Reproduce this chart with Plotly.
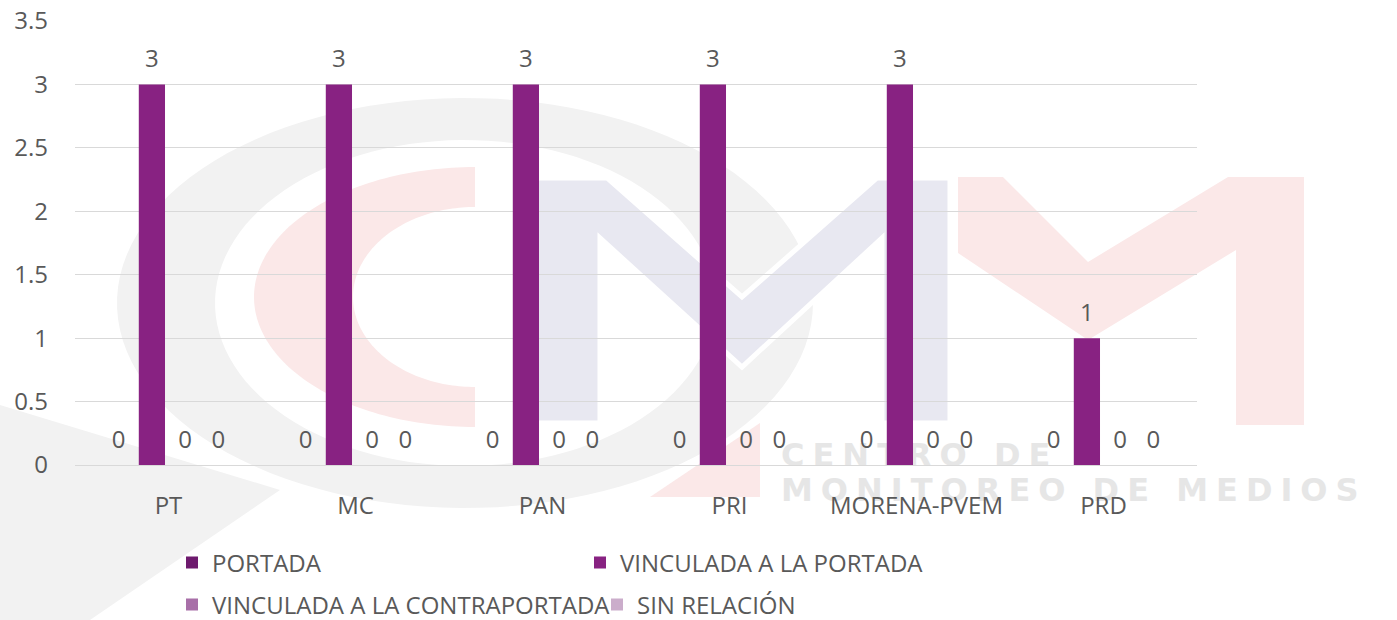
import numpy as np
import plotly.graph_objects as go

# ---------------- data ----------------
categories = ["PT", "MC", "PAN", "PRI", "MORENA-PVEM", "PRD"]
portada = [0, 0, 0, 0, 0, 0]
vinculada_portada = [3, 3, 3, 3, 3, 1]
vinculada_contraportada = [0, 0, 0, 0, 0, 0]
sin_relacion = [0, 0, 0, 0, 0, 0]
series_names = ["PORTADA", "VINCULADA A LA PORTADA",
                "VINCULADA A LA CONTRAPORTADA", "SIN RELACIÓN"]
y_tick_values = [0, 0.5, 1, 1.5, 2, 2.5, 3, 3.5]

# ---------------- style ----------------
colors = ["#6E1A6E", "#882282", "#A86FA8", "#CBADCB"]
legend_of = ["legend", "legend", "legend2", "legend2"]
FONT = "Open Sans"
TXT = "#595959"
W, H = 1397, 620
L, R, T, B = 75, 1197, 21, 465  # plot area in pixels
GAP = 0.29


def px(x):
    return (x - L) / (R - L)


def py(y):
    return (B - y) / (B - T)


def poly(points):
    return "M " + " L ".join(f"{px(x):.5f},{py(y):.5f}" for x, y in points) + " Z"


def ellipse_pts(cx, cy, rx, ry, a0, a1, n=120):
    a = np.linspace(np.radians(a0), np.radians(a1), n)
    return [(cx + rx * np.cos(t), cy - ry * np.sin(t)) for t in a]


fig = go.Figure()
all_values = [portada, vinculada_portada, vinculada_contraportada, sin_relacion]
for i, (name, vals, col, lg) in enumerate(zip(series_names, all_values, colors, legend_of)):
    fig.add_trace(go.Bar(
        name=name, x=categories, y=vals,
        marker=dict(color=col, line=dict(width=0)),
        legend=lg, offsetgroup=str(i), hoverinfo="x+y+name",
    ))
# data labels (same grouping as the bars)
for i, (name, vals) in enumerate(zip(series_names, all_values)):
    fig.add_trace(go.Scatter(
        name=name, x=categories, y=vals, mode="markers+text",
        text=[str(v) for v in vals], textposition="top center",
        marker=dict(size=16, opacity=0), offsetgroup=str(i),
        textfont=dict(family=FONT, size=24, color=TXT),
        cliponaxis=False, showlegend=False, hoverinfo="skip",
    ))

# ---------------- watermark (decoration) ----------------
shapes = []
grey = "#F2F2F2"
pink = "#FBE8E8"
lav = "#E8E8F1"
outer = ellipse_pts(465, 303, 348, 205, 0, 360)
inner = ellipse_pts(465, 303, 250, 163, 0, 360)
shapes.append(dict(type="path", path=poly(outer) + " " + poly(inner),
                   fillcolor=grey, line=dict(width=0), fillrule="evenodd",
                   xref="paper", yref="paper", layer="below"))
shapes.append(dict(type="path", path=poly([(0, 405), (280, 490), (90, 620), (0, 620)]),
                   fillcolor=grey, line=dict(width=0),
                   xref="paper", yref="paper", layer="below"))
c_out = ellipse_pts(475, 297, 221, 130, 90, 270)
c_in = ellipse_pts(475, 297, 122, 90, 270, 90)
shapes.append(dict(type="path", path=poly(c_out + c_in),
                   fillcolor=pink, line=dict(width=0),
                   xref="paper", yref="paper", layer="below"))
shapes.append(dict(type="path", path=poly([(650, 497), (760, 423), (760, 497)]),
                   fillcolor=pink, line=dict(width=0),
                   xref="paper", yref="paper", layer="below"))
shapes.append(dict(type="path", path=poly([
    (536, 423), (536, 178), (607, 178), (742, 297), (877, 178), (950, 178),
    (950, 423), (882, 423), (882, 238), (742, 367), (600, 238), (600, 423)]),
    fillcolor=lav, line=dict(width=5, color="white"),
    xref="paper", yref="paper", layer="below"))
shapes.append(dict(type="path", path=poly([
    (958, 177), (1003, 177), (1088, 262), (1228, 177), (1304, 177),
    (1304, 425), (1236, 425), (1236, 250), (1088, 340), (958, 253)]),
    fillcolor=pink, line=dict(width=0), xref="paper", yref="paper", layer="below"))

SP = "\u2005"
wm_font = dict(family="DejaVu Sans", size=32, color="#E6E6E6", weight="bold")
for txt, yc in [("CENTRO DE", 453), ("MONITOREO DE MEDIOS", 488)]:
    shapes.append(dict(
        type="rect", x0=px(778), x1=px(1396), y0=py(yc + 17), y1=py(yc - 17),
        xref="paper", yref="paper", layer="below",
        fillcolor="rgba(0,0,0,0)", line=dict(width=0),
        label=dict(text=SP.join(txt), textposition="middle left",
                   font=wm_font, padding=0),
    ))

fig.update_layout(
    width=W, height=H,
    margin=dict(l=L, r=W - R, t=T, b=H - B, pad=0, autoexpand=False),
    paper_bgcolor="white", plot_bgcolor="rgba(0,0,0,0)",
    barmode="group", bargap=GAP, bargroupgap=0.21,
    scattermode="group", scattergap=GAP,
    font=dict(family=FONT, size=24, color=TXT),
    shapes=shapes,
    xaxis=dict(showgrid=False, showline=False, zeroline=False, ticks="",
               tickfont=dict(family=FONT, size=24, color=TXT),
               ticklabelstandoff=24),
    yaxis=dict(range=[0, 3.5], tickvals=y_tick_values, showgrid=True,
               gridcolor="#D9D9D9", gridwidth=1.3, zeroline=True,
               zerolinecolor="#D9D9D9", zerolinewidth=1.3, showline=False,
               ticks="", tickfont=dict(family=FONT, size=24, color=TXT),
               ticklabelstandoff=26),
    legend=dict(orientation="h", x=px(172), y=py(563), xanchor="left", yanchor="middle",
                entrywidth=363, entrywidthmode="pixels",
                font=dict(family=FONT, size=24, color=TXT), bgcolor="rgba(0,0,0,0)"),
    legend2=dict(orientation="h", x=px(172), y=py(605), xanchor="left", yanchor="middle",
                 entrywidth=380, entrywidthmode="pixels",
                 font=dict(family=FONT, size=24, color=TXT), bgcolor="rgba(0,0,0,0)"),
    showlegend=True,
)

fig.write_html(
    "out.html",
    config={"displayModeBar": False},
    post_script="document.body.style.margin='0';document.body.style.padding='0';",
)
